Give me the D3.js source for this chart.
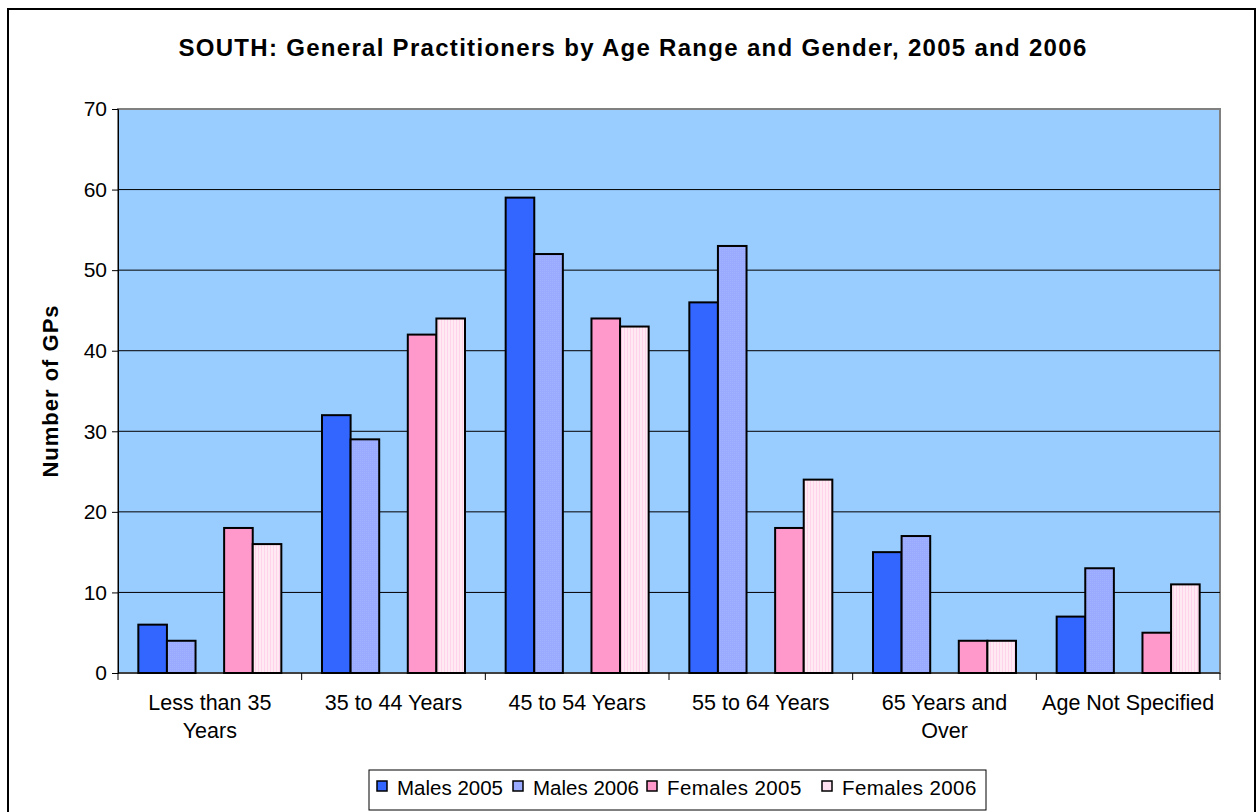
<!DOCTYPE html>
<html>
<head>
<meta charset="utf-8">
<script src="https://cdn.jsdelivr.net/npm/d3@7"></script>
<style>
  body { margin: 0; background: #fff; }
  svg { display: block; font-family: "Liberation Sans", Arial, sans-serif; }
</style>
</head>
<body>
<div id="chart"></div>
<script>
const categories = ["Less than 35 Years", "35 to 44 Years", "45 to 54 Years", "55 to 64 Years", "65 Years and Over", "Age Not Specified"];
const categoryLines = [["Less than 35", "Years"], ["35 to 44 Years"], ["45 to 54 Years"], ["55 to 64 Years"], ["65 Years and", "Over"], ["Age Not Specified"]];
const seriesNames = ["Males 2005", "Males 2006", "Females 2005", "Females 2006"];
const males2005 = [6, 32, 59, 46, 15, 7];
const males2006 = [4, 29, 52, 53, 17, 13];
const females2005 = [18, 42, 44, 18, 4, 5];
const females2006 = [16, 44, 43, 24, 4, 11];
const yTicks = [0, 10, 20, 30, 40, 50, 60, 70];

const series = [males2005, males2006, females2005, females2006];
const fills = ["#3366FF", "url(#dotM06)", "#FF99CC", "url(#stripeF06)"];
const legendFills = ["#3366FF", "#99AAFF", "#FF99CC", "#FFE0F0"];
// slot index in the group: gap between males and females
const slots = [0, 1, 3, 4];

const width = 1258;
const height = 812;
const marginTop = 109;
const marginRight = 38;
const marginBottom = 139;
const marginLeft = 118;

const svg = d3.select("#chart")
    .append("svg")
    .attr("width", width)
    .attr("height", height);

const defs = svg.append("defs");
const dot = defs.append("pattern")
    .attr("id", "dotM06")
    .attr("width", 2).attr("height", 2)
    .attr("patternUnits", "userSpaceOnUse");
dot.append("rect").attr("width", 2).attr("height", 2).attr("fill", "#99AAFF");
dot.append("rect").attr("width", 1).attr("height", 1).attr("fill", "#A3B2FF");

const stripe = defs.append("pattern")
    .attr("id", "stripeF06")
    .attr("width", 3).attr("height", 3)
    .attr("patternUnits", "userSpaceOnUse");
stripe.append("rect").attr("width", 3).attr("height", 3).attr("fill", "#FFEAF4");
stripe.append("rect").attr("width", 1).attr("height", 3).attr("fill", "#FFD3E9");

// outer frame
svg.append("rect")
    .attr("x", 8).attr("y", 9)
    .attr("width", 1247).attr("height", 820)
    .attr("fill", "#fff")
    .attr("stroke", "#000")
    .attr("stroke-width", 2);

const x = d3.scaleBand()
    .domain(categories)
    .range([marginLeft, width - marginRight]);

const y = d3.scaleLinear()
    .domain([0, 70])
    .range([height - marginBottom, marginTop]);

const barW = 28.6;
const groupPad = (x.bandwidth() - 5 * barW) / 2;

// plot area
svg.append("rect")
    .attr("x", marginLeft).attr("y", marginTop)
    .attr("width", width - marginRight - marginLeft)
    .attr("height", height - marginBottom - marginTop)
    .attr("fill", "#99CCFF")
    .attr("stroke", "#808080")
    .attr("stroke-width", 2);

// gridlines
svg.append("g")
    .selectAll("line")
    .data(yTicks.slice(1, -1))
    .join("line")
    .attr("x1", marginLeft).attr("x2", width - marginRight)
    .attr("y1", d => y(d)).attr("y2", d => y(d))
    .attr("stroke", "#000")
    .attr("stroke-width", 1);

// bars
series.forEach((vals, si) => {
    svg.append("g")
        .selectAll("rect")
        .data(vals)
        .join("rect")
        .attr("x", (d, i) => x(categories[i]) + groupPad + slots[si] * barW)
        .attr("y", d => y(d))
        .attr("width", barW)
        .attr("height", d => y(0) - y(d))
        .attr("fill", fills[si])
        .attr("stroke", "#000")
        .attr("stroke-width", 2);
});

// y axis
svg.append("g")
    .attr("transform", `translate(${marginLeft},0)`)
    .call(d3.axisLeft(y).tickValues(yTicks).tickSize(6).tickPadding(5))
    .call(g => g.select(".domain").attr("stroke", "#000").attr("stroke-width", 1))
    .call(g => g.selectAll(".tick line").attr("stroke", "#000"))
    .call(g => g.selectAll("text").attr("font-size", 21).attr("fill", "#000")
        .attr("font-family", "Liberation Sans, Arial, sans-serif"));

// x axis
const xAxis = svg.append("g")
    .attr("transform", `translate(0,${height - marginBottom})`);
xAxis.append("line")
    .attr("x1", marginLeft).attr("x2", width - marginRight)
    .attr("stroke", "#000").attr("stroke-width", 1);
xAxis.selectAll(".sep")
    .data(d3.range(categories.length + 1))
    .join("line")
    .attr("x1", i => marginLeft + i * x.step())
    .attr("x2", i => marginLeft + i * x.step())
    .attr("y1", 0).attr("y2", 7)
    .attr("stroke", "#000");
xAxis.selectAll(".lbl")
    .data(categories)
    .join("text")
    .attr("x", d => x(d) + x.bandwidth() / 2)
    .attr("y", 37)
    .attr("text-anchor", "middle")
    .attr("font-size", 21.5)
    .attr("fill", "#000")
    .each(function(d, i) {
        d3.select(this).selectAll("tspan")
            .data(categoryLines[i])
            .join("tspan")
            .attr("x", x(d) + x.bandwidth() / 2)
            .attr("dy", (t, j) => j === 0 ? 0 : 28)
            .text(t => t);
    });

// title
svg.append("text")
    .attr("x", 633).attr("y", 56)
    .attr("text-anchor", "middle")
    .attr("font-size", 24)
    .attr("letter-spacing", 1.3)
    .attr("font-weight", "bold")
    .text("SOUTH: General Practitioners by Age Range and Gender, 2005 and 2006");

// y title
svg.append("text")
    .attr("transform", `translate(58,${(marginTop + height - marginBottom) / 2}) rotate(-90)`)
    .attr("text-anchor", "middle")
    .attr("font-size", 22)
    .attr("letter-spacing", 1)
    .attr("font-weight", "bold")
    .text("Number of GPs");

// legend
const legendX = [377, 513, 647, 822];
const legend = svg.append("g");
legend.append("rect")
    .attr("x", 369).attr("y", 770)
    .attr("width", 617).attr("height", 40)
    .attr("fill", "#fff")
    .attr("stroke", "#000")
    .attr("stroke-width", 1);
seriesNames.forEach((name, i) => {
    legend.append("rect")
        .attr("x", legendX[i]).attr("y", 781)
        .attr("width", 10).attr("height", 10)
        .attr("fill", legendFills[i])
        .attr("stroke", "#000")
        .attr("stroke-width", 1.5);
    legend.append("text")
        .attr("x", legendX[i] + 20).attr("y", 795)
        .attr("font-size", 20.5)
        .attr("letter-spacing", i >= 2 ? 0.4 : 0)
        .text(name);
});
</script>
</body>
</html>
